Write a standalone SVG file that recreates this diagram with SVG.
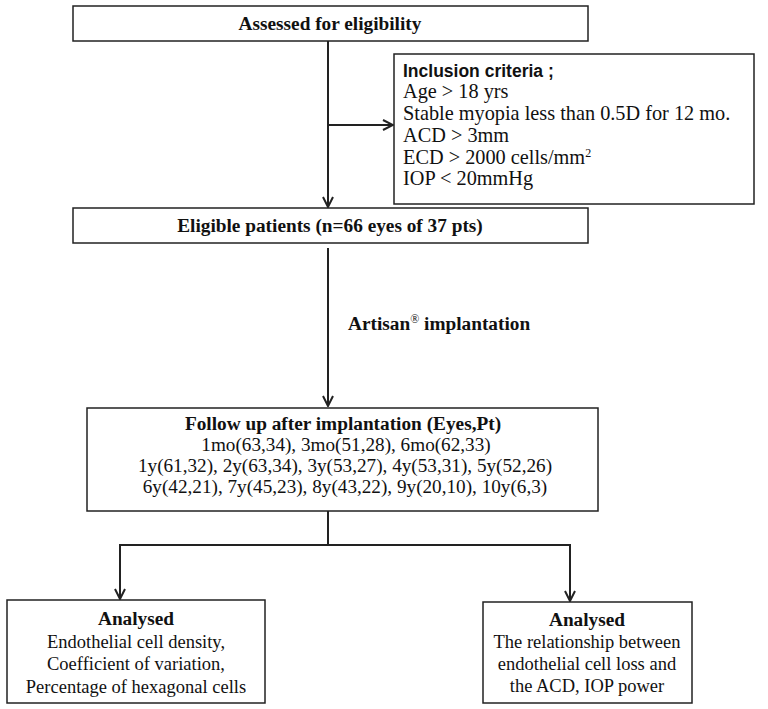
<svg xmlns="http://www.w3.org/2000/svg" width="768" height="709" viewBox="0 0 768 709">
<style>
.box{fill:#fff;stroke:#222;stroke-width:1.5}
.t{font-family:"Liberation Serif","Times New Roman",serif;font-size:18.5px;fill:#111}
.b{font-weight:bold;font-size:19.3px}
.i{font-size:20.3px}
.f{font-size:19.2px}
.s{font-family:"Liberation Sans",Arial,sans-serif;font-size:17.5px;font-weight:bold;fill:#111}
.c{text-anchor:middle}
.ln{fill:none;stroke:#222;stroke-width:2}
</style>
<defs>
<marker id="ah" viewBox="0 0 12 12" refX="11" refY="6" markerWidth="12" markerHeight="12" markerUnits="userSpaceOnUse" orient="auto">
<path d="M1,1 L11,6 L1,11" fill="none" stroke="#222" stroke-width="2"/>
</marker>
</defs>
<rect width="768" height="709" fill="#fff"/>
<g id="connectors">
<line class="ln" x1="328" y1="41" x2="328" y2="207" marker-end="url(#ah)"/>
<line class="ln" x1="328" y1="125" x2="393" y2="125" marker-end="url(#ah)"/>
<line class="ln" x1="328" y1="248" x2="328" y2="406" marker-end="url(#ah)"/>
<polyline class="ln" points="328,511 328,545"/>
<polyline class="ln" points="120,545 570,545 570,601" marker-end="url(#ah)"/>
<line class="ln" x1="120" y1="544" x2="120" y2="599" marker-end="url(#ah)"/>
<text class="t b" x="348" y="330">Artisan<tspan font-size="12" dy="-7" font-weight="normal">®</tspan><tspan dy="7"> implantation</tspan></text>
</g>
<g id="assessed">
<rect class="box" x="73" y="6" width="515" height="35"/>
<text class="t b c" x="330" y="30">Assessed for eligibility</text>
</g>
<g id="inclusion">
<rect class="box" x="394" y="54" width="360" height="150"/>
<text class="s" x="403" y="77">Inclusion criteria ;</text>
<text class="t i" x="403" y="98">Age &gt; 18 yrs</text>
<text class="t i" x="403" y="120">Stable myopia less than 0.5D for 12 mo.</text>
<text class="t i" x="403" y="142">ACD &gt; 3mm</text>
<text class="t i" x="403" y="164">ECD &gt; 2000 cells/mm<tspan font-size="12" dy="-7">2</tspan></text>
<text class="t i" x="403" y="185">IOP &lt; 20mmHg</text>
</g>
<g id="eligible">
<rect class="box" x="73" y="208" width="515" height="35"/>
<text class="t b c" x="330" y="232">Eligible patients (n=66 eyes of 37 pts)</text>
</g>
<g id="followup">
<rect class="box" x="87" y="408" width="511" height="103"/>
<text class="t b c" x="343" y="430">Follow up after implantation (Eyes,Pt)</text>
<text class="t f c" x="346" y="451">1mo(63,34), 3mo(51,28), 6mo(62,33)</text>
<text class="t f c" x="345" y="472">1y(61,32), 2y(63,34), 3y(53,27), 4y(53,31), 5y(52,26)</text>
<text class="t f c" x="345" y="493">6y(42,21), 7y(45,23), 8y(43,22), 9y(20,10), 10y(6,3)</text>
</g>
<g id="analysed-left">
<rect class="box" x="7" y="600" width="258" height="103"/>
<text class="t b c" x="136" y="625">Analysed</text>
<text class="t c" x="136" y="648">Endothelial cell density,</text>
<text class="t c" x="136" y="670">Coefficient of variation,</text>
<text class="t c" x="136" y="693">Percentage of hexagonal cells</text>
</g>
<g id="analysed-right">
<rect class="box" x="483" y="602" width="209" height="101"/>
<text class="t b c" x="587" y="626">Analysed</text>
<text class="t c" x="587" y="648">The relationship between</text>
<text class="t c" x="587" y="670">endothelial cell loss and</text>
<text class="t c" x="587" y="692">the ACD, IOP power</text>
</g>
</svg>
